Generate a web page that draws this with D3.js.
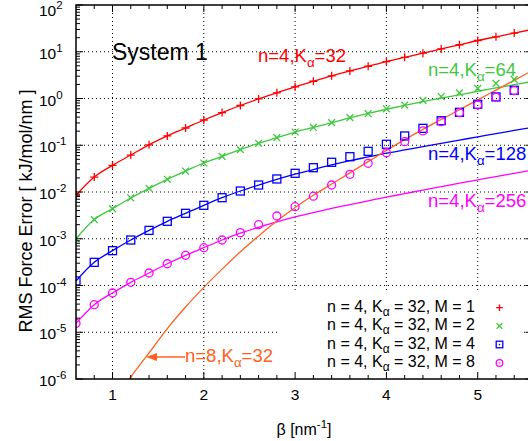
<!DOCTYPE html>
<html><head><meta charset="utf-8">
<script src="https://cdn.jsdelivr.net/npm/d3@7"></script>
<style>body{margin:0;background:#fff}svg{display:block}text{font-family:"Liberation Sans",Arial,sans-serif}</style>
</head><body><svg id="c" width="528" height="441"></svg>
<script>
// ---- data ----
const betaPts = [0.6,0.8,1.0,1.2,1.4,1.6,1.8,2.0,2.2,2.4,2.6,2.8,3.0,3.2,3.4,3.6,3.8,4.0,4.2,4.4,4.6,4.8,5.0,5.2,5.4];
const betaLine = [0.6,0.8,1.0,1.2,1.4,1.6,1.8,2.0,2.2,2.4,2.6,2.8,3.0,3.2,3.4,3.6,3.8,4.0,4.2,4.4,4.6,4.8,5.0,5.2,5.4,5.6];
const betaN8 = [1.1,1.2,1.4,1.6,1.8,2.0,2.2,2.4,2.6,2.8,3.0,3.2,3.4,3.6,3.8,4.0,4.2,4.4,4.6,4.8,5.0,5.2,5.4,5.6];

// measured points, n=4, K=32, M = 1,2,4,8
const rmsM1 = [0.0085,0.0209,0.0372,0.0617,0.102,0.158,0.234,0.347,0.501,0.708,0.977,1.32,1.78,2.34,3.05,3.89,4.90,6.17,7.59,9.33,11.5,14.1,17.4,20.9,25.1];
const rmsM2 = [0.0010,0.00257,0.00440,0.00745,0.0120,0.0187,0.0281,0.0417,0.0579,0.0805,0.110,0.145,0.192,0.240,0.304,0.389,0.473,0.603,0.724,0.912,1.10,1.32,1.65,2.11,2.57];
const rmsM4 = [1.25e-4,3.13e-4,5.56e-4,9.40e-4,0.00151,0.00236,0.00350,0.00519,0.00755,0.0105,0.0141,0.0190,0.0251,0.0331,0.0432,0.0569,0.0741,0.105,0.158,0.230,0.335,0.506,0.752,1.08,1.50];
const rmsM8 = [1.55e-5,3.89e-5,6.92e-5,1.17e-4,1.85e-4,2.92e-4,4.42e-4,6.44e-4,9.40e-4,0.00135,0.00200,0.00307,0.00485,0.00813,0.0141,0.0239,0.0411,0.0692,0.119,0.202,0.320,0.497,0.726,1.06,1.47];

// estimate curves
const estK32 = [0.0085,0.0209,0.0372,0.0617,0.102,0.158,0.234,0.347,0.501,0.708,0.977,1.32,1.78,2.34,3.05,3.89,4.90,6.17,7.59,9.33,11.5,14.1,17.4,20.9,25.1,30.2];
const estK64 = [0.0010,0.00257,0.00440,0.00745,0.0120,0.0187,0.0281,0.0417,0.0579,0.0805,0.110,0.145,0.192,0.240,0.304,0.385,0.479,0.589,0.716,0.861,1.02,1.20,1.43,1.68,1.97,2.32];
const estK128 = [1.25e-4,3.13e-4,5.56e-4,9.40e-4,0.00151,0.00236,0.00350,0.00519,0.00755,0.0105,0.0141,0.0186,0.0240,0.0302,0.0380,0.0468,0.0562,0.0676,0.0794,0.0933,0.110,0.129,0.151,0.178,0.207,0.240];
const estK256 = [1.55e-5,3.89e-5,6.92e-5,1.17e-4,1.85e-4,2.92e-4,4.42e-4,6.44e-4,9.40e-4,0.00132,0.00176,0.00229,0.00292,0.00363,0.00447,0.00537,0.00646,0.00776,0.00923,0.0110,0.0130,0.0155,0.0182,0.0214,0.0251,0.0295];
const estN8K32 = [5.8e-7,1.10e-6,3.63e-6,1.20e-5,3.47e-5,9.12e-5,2.24e-4,5.25e-4,1.15e-3,2.40e-3,4.68e-3,8.51e-3,0.0148,0.0257,0.0447,0.0776,0.132,0.219,0.355,0.575,0.933,1.51,2.45,3.98];

const xTicks = [1,2,3,4,5];
const yExponents = [-6,-5,-4,-3,-2,-1,0,1,2];
const legendLabels = ["1","2","4","8"];

// ---- drawing ----
const svg = d3.select("#c");
const L=76, T=5, B=379, R=532.5;
const x = d3.scaleLinear().domain([0.6,5.6]).range([L,R]);
const y = d3.scaleLog().domain([1e-6,1e2]).range([B,T]);

const C = {red:"#ff0000", green:"#3ec83e", blue:"#0000ff", mag:"#ff00ff", orange:"#ff6020"};

svg.append("defs").append("clipPath").attr("id","pa").append("rect")
  .attr("x",L).attr("y",T).attr("width",R-L).attr("height",B-T);

// grid
const grid = svg.append("g").attr("stroke","#000").attr("stroke-width",1).attr("stroke-dasharray","1,3");
xTicks.forEach(v=>grid.append("line").attr("x1",x(v)).attr("x2",x(v)).attr("y1",T).attr("y2",B));
yExponents.filter(e=>e>-6&&e<2).forEach(e=>grid.append("line").attr("x1",L).attr("x2",R).attr("y1",y(Math.pow(10,e))).attr("y2",y(Math.pow(10,e))));

const plot = svg.append("g").attr("clip-path","url(#pa)");
const line = d3.line().x(d=>x(d[0])).y(d=>y(d[1])).curve(d3.curveMonotoneX);
function drawLine(bs, vs, col){
  plot.append("path").attr("d", line(bs.map((b,i)=>[b,vs[i]]))).attr("fill","none").attr("stroke",col).attr("stroke-width",1.3);
}
drawLine(betaLine, estK32, C.red);
drawLine(betaLine, estK64, C.green);
drawLine(betaLine, estK128, C.blue);
drawLine(betaLine, estK256, C.mag);
drawLine(betaN8, estN8K32, C.orange);

function marker(g, type, cx, cy, col, s){
  const p = g.append("g").attr("stroke",col).attr("stroke-width",1.3).attr("fill","none");
  if(type==="plus"){ p.append("path").attr("d",`M${cx-s},${cy}H${cx+s}M${cx},${cy-s}V${cy+s}`); }
  else if(type==="cross"){ const k=s*0.85; p.append("path").attr("d",`M${cx-k},${cy-k}L${cx+k},${cy+k}M${cx-k},${cy+k}L${cx+k},${cy-k}`); }
  else if(type==="square"){ p.append("rect").attr("x",cx-s).attr("y",cy-s).attr("width",2*s).attr("height",2*s); }
  else if(type==="circle"){ p.append("circle").attr("cx",cx).attr("cy",cy).attr("r",s); }
}
const series = [
  {vals:rmsM1, type:"plus", col:C.red},
  {vals:rmsM2, type:"cross", col:C.green},
  {vals:rmsM4, type:"square", col:C.blue},
  {vals:rmsM8, type:"circle", col:C.mag}
];
series.forEach(s=>{
  s.vals.forEach((v,i)=>marker(plot, s.type, x(betaPts[i]), y(v), s.col, 4));
});

// curve labels
function curveLabel(tx, ty, first, sub, rest, col, fs){
  const t = svg.append("text").attr("x",tx).attr("y",ty).attr("fill",col).attr("font-size",fs);
  t.append("tspan").text(first);
  t.append("tspan").attr("dy",5).attr("font-size",fs*0.72).text(sub);
  t.append("tspan").attr("dy",-5).text(rest);
}
curveLabel(258, 62, "n=4,K", "α", "=32", C.red, 18.5);
curveLabel(428, 76, "n=4,K", "α", "=64", C.green, 18.5);
curveLabel(428, 160, "n=4,K", "α", "=128", C.blue, 18.5);
curveLabel(428, 207, "n=4,K", "α", "=256", C.mag, 18.5);
curveLabel(185, 362, "n=8,K", "α", "=32", C.orange, 18.5);
// arrow
svg.append("line").attr("x1",185).attr("x2",152).attr("y1",357).attr("y2",357).attr("stroke",C.orange).attr("stroke-width",1.5);
svg.append("path").attr("d","M146,357L157,353L157,361Z").attr("fill",C.orange);

svg.append("text").attr("x",112).attr("y",60).attr("font-size",23).attr("fill","#000").text("System 1");

// legend
svg.append("rect").attr("x",280).attr("y",293).attr("width",242).attr("height",B-293).attr("fill","#fff");
const lt = [311.7,330,348.5,367];
series.forEach((s,i)=>{
  const t = svg.append("text").attr("x",475).attr("y",lt[i]).attr("text-anchor","end").attr("font-size",16).attr("fill","#000");
  t.append("tspan").text("n = 4, K");
  t.append("tspan").attr("dy",4).attr("font-size",12).text("α");
  t.append("tspan").attr("dy",-4).text(" = 32, M = " + legendLabels[i]);
  marker(svg, s.type, 499.5, lt[i]-4, s.col, 3.3);
  if(s.type==="square"||s.type==="circle") svg.append("circle").attr("cx",499.5).attr("cy",lt[i]-4).attr("r",0.8).attr("fill",s.col);
});

// axes frame and ticks
const ax = svg.append("g").attr("stroke","#000").attr("stroke-width",1.5);
ax.append("rect").attr("x",L).attr("y",T).attr("width",R-L).attr("height",B-T).attr("fill","none");
const tk = svg.append("g").attr("stroke","#000").attr("stroke-width",1);
d3.range(0.8,5.5,0.2).forEach(v=>{
  const major = xTicks.some(t=>Math.abs(t-v)<1e-6);
  const len = major?7:4;
  tk.append("line").attr("x1",x(v)).attr("x2",x(v)).attr("y1",B).attr("y2",B-len);
  tk.append("line").attr("x1",x(v)).attr("x2",x(v)).attr("y1",T).attr("y2",T+len);
});
yExponents.forEach(e=>{
  const v = Math.pow(10,e);
  tk.append("line").attr("x1",L).attr("x2",L+7).attr("y1",y(v)).attr("y2",y(v));
  tk.append("line").attr("x1",R).attr("x2",R-7).attr("y1",y(v)).attr("y2",y(v));
  if(e<2) for(let k=2;k<=9;k++){
    const m=k*v;
    tk.append("line").attr("x1",L).attr("x2",L+4).attr("y1",y(m)).attr("y2",y(m));
    tk.append("line").attr("x1",R).attr("x2",R-4).attr("y1",y(m)).attr("y2",y(m));
  }
});

// tick labels
xTicks.forEach(v=>svg.append("text").attr("x",x(v)).attr("y",399.5).attr("text-anchor","middle").attr("font-size",15.5).text(v));
yExponents.forEach(e=>{
  const yy = Math.max(y(Math.pow(10,e))+7, 16);
  const t = svg.append("text").attr("x",39).attr("y",yy).attr("font-size",15.5);
  t.append("tspan").text("10");
  t.append("tspan").attr("dy",-7).attr("font-size",11.5).text(e<0?"-"+(-e):String(e));
});

// axis titles
const xt = svg.append("text").attr("x",304).attr("y",435).attr("text-anchor","middle").attr("font-size",16);
xt.append("tspan").text("β [nm");
xt.append("tspan").attr("dy",-7).attr("font-size",11.5).text("-1");
xt.append("tspan").attr("dy",7).text("]");
svg.append("text").attr("transform","translate(32,211) rotate(-90)").attr("text-anchor","middle").attr("font-size",18).text("RMS Force Error [ kJ/mol/nm ]");
</script></body></html>
